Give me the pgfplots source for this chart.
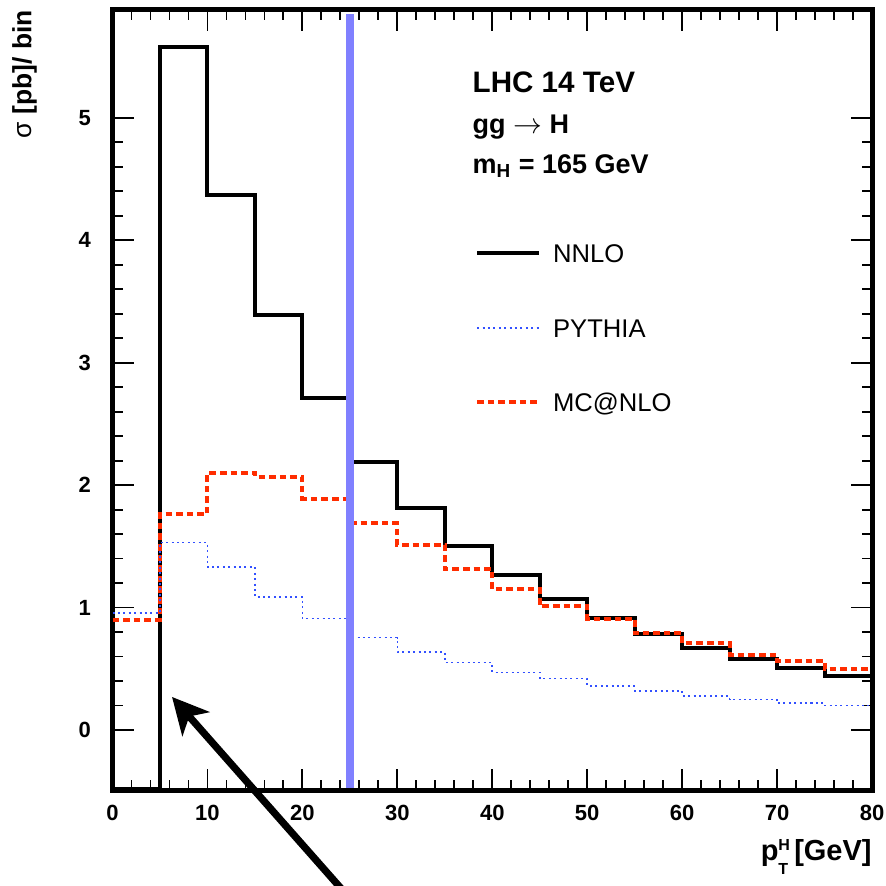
\documentclass[border=0pt]{standalone}
\usepackage{pgfplots}
\pgfplotsset{compat=1.18}
\usepackage{fontspec}
\setmainfont{Liberation Sans}
\usetikzlibrary{arrows.meta}
\definecolor{mcred}{RGB}{255,45,0}
\definecolor{pyblue}{RGB}{50,80,255}
\definecolor{cutblue}{RGB}{128,128,255}

\begin{document}
\begin{tikzpicture}
\begin{axis}[
  scale only axis, width=379.75pt, height=390pt,
  xmin=0, xmax=80, ymin=-0.49, ymax=5.88,
  xtick={0,10,...,80}, ytick={0,1,...,5},
  minor x tick num=4, minor y tick num=4,
  tick align=inside,
  major tick length=10.5pt, minor tick length=5pt,
  every tick/.style={black, line width=0.9pt},
  axis line style={line width=2.5pt},
  /pgf/number format/assume math mode=true,
  ticklabel style={font=\bfseries\fontsize{11}{13}\selectfont},
  xticklabel style={yshift=-3.9pt},
  yticklabel style={xshift=-7.3pt},
  clip=false,
  xlabel={p\rlap{\raisebox{4.6pt}{\fontsize{8}{8}\selectfont H}}\raisebox{-7.4pt}{\fontsize{8}{8}\selectfont T}\hspace{3pt}[GeV]},
  xlabel style={at={(rel axis cs:1,0)}, anchor=base east, yshift=-35pt, inner sep=0pt, font=\bfseries\fontsize{14.5}{16}\selectfont},
  ylabel={{\mdseries σ} [pb]/ bin},
  ylabel style={at={([xshift=-44pt]rel axis cs:0,1)}, rotate=0, anchor=east, inner sep=0pt, font=\bfseries\fontsize{13.2}{16}\selectfont},
  legend cell align=left,
  legend image code/.code={\draw[#1] (0pt,0pt) -- (31pt,0pt);},
  legend style={draw=none, fill=none, at={(axis cs:38.2,3.97)}, anchor=north west, inner sep=0pt, outer sep=0pt, row sep=28pt, column sep=6pt, font=\fontsize{12.8}{15}\selectfont, nodes={inner sep=0pt, text height=9.3pt, text depth=0pt}},
]
% NNLO
\addplot[const plot, black, line width=2pt, forget plot] coordinates {
 (0,-0.48) (5,5.575) (10,4.37) (15,3.39) (20,2.71) (25,2.19) (30,1.81) (35,1.50)
 (40,1.27) (45,1.07) (50,0.915) (55,0.785) (60,0.67) (65,0.58) (70,0.51) (75,0.445) (80,0.445)};
% MC@NLO
\addplot[const plot, mcred, line width=2pt, dash pattern=on 3.3pt off 2pt, forget plot] coordinates {
 (0,0.90) (5,1.765) (10,2.10) (15,2.07) (20,1.89) (25,1.69) (30,1.51) (35,1.315)
 (40,1.15) (45,1.01) (50,0.91) (55,0.79) (60,0.71) (65,0.615) (70,0.565) (75,0.50) (80,0.50)};
% PYTHIA
\addplot[const plot, pyblue, line width=0.8pt, dash pattern=on 1pt off 1.7pt, forget plot] coordinates {
 (0,0.955) (5,1.53) (10,1.33) (15,1.085) (20,0.91) (25,0.755) (30,0.635) (35,0.55)
 (40,0.47) (45,0.42) (50,0.36) (55,0.32) (60,0.28) (65,0.25) (70,0.22) (75,0.20) (80,0.20)};
% cut line
\addplot[cutblue, line width=4pt, forget plot] coordinates {(25,-0.47) (25,5.85)};

\addlegendimage{black, line width=2pt}
\addlegendentry{NNLO}
\addlegendimage{pyblue, line width=0.8pt, dash pattern=on 1pt off 1.7pt}
\addlegendentry{PYTHIA}
\addlegendimage{mcred, line width=2pt, dash pattern=on 3.3pt off 2pt}
\addlegendentry{MC@NLO}

\node[anchor=base west, inner sep=0pt, font=\bfseries\fontsize{14.8}{17}\selectfont] at (axis cs:37.9,5.21) {LHC 14 TeV};
\node[anchor=base west, inner sep=0pt, font=\bfseries\fontsize{13.5}{16}\selectfont] at (axis cs:37.9,4.875) {gg $\rightarrow$ H};
\node[anchor=base west, inner sep=0pt, font=\bfseries\fontsize{13.5}{16}\selectfont] at (axis cs:37.9,4.545) {m\textsubscript{H} = 165 GeV};

\coordinate (tip) at (axis cs:6.27,0.27);
\coordinate (tail) at (axis cs:24.6,-1.34);
\coordinate (sw) at (rel axis cs:0,0);
\coordinate (ne) at (rel axis cs:1,1);
\end{axis}
\draw[line width=3.6pt, -{Stealth[length=18pt, width=18pt, inset=5pt]}] (tail) -- (tip);
\pgfresetboundingbox
\useasboundingbox ([shift={(-56.25pt,-47.5pt)}]sw) rectangle ([shift={(7pt,5pt)}]ne);
\end{tikzpicture}
\end{document}
